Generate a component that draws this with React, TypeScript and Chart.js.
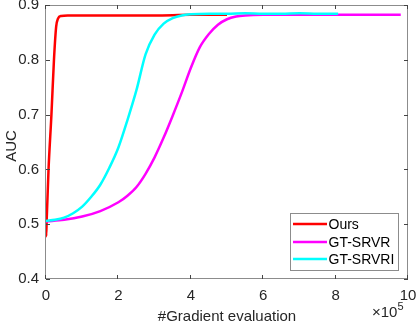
import React, { useEffect, useRef } from "react";
import { Chart, registerables } from "chart.js";

Chart.register(...registerables);

// x values are in units of 1e5 gradient evaluations
const oursX = [0, 0.005, 0.02, 0.07, 0.15, 0.22, 0.28, 0.33, 0.42, 0.6, 1, 2, 3, 4, 5];
const oursY = [0.505, 0.478, 0.51, 0.6, 0.7, 0.8, 0.86, 0.875, 0.88, 0.881, 0.881, 0.881, 0.881, 0.882, 0.882];

const srvrX = [0, 0.5, 1.0, 1.5, 2.0, 2.25, 2.5, 2.75, 3.0, 3.25, 3.5, 3.75, 4.0, 4.25, 4.5, 4.75, 5.0, 5.25, 5.5, 6, 7, 8, 9, 9.8];
const srvrY = [0.505, 0.508, 0.514, 0.524, 0.54, 0.552, 0.568, 0.592, 0.622, 0.658, 0.698, 0.74, 0.785, 0.823, 0.847, 0.864, 0.874, 0.879, 0.881, 0.882, 0.882, 0.882, 0.882, 0.882];

const srvriX = [0, 0.25, 0.5, 0.75, 1.0, 1.25, 1.5, 1.75, 2.0, 2.25, 2.5, 2.75, 3.0, 3.25, 3.5, 3.75, 4.0, 4.5, 5, 5.5, 6, 6.5, 7, 7.5, 8.07];
const srvriY = [0.506, 0.508, 0.512, 0.52, 0.532, 0.55, 0.572, 0.603, 0.64, 0.69, 0.745, 0.81, 0.846, 0.866, 0.876, 0.881, 0.883, 0.884, 0.884, 0.885, 0.884, 0.884, 0.885, 0.884, 0.884];

const seriesNames = ["Ours", "GT-SRVR", "GT-SRVRI"];
const seriesColors = ["#ff0000", "#ff00ff", "#00ffff"];

const xTicks = [0, 2, 4, 6, 8, 10];
const yTicks = [0.4, 0.5, 0.6, 0.7, 0.8, 0.9];

const FONT = "'Liberation Sans', Arial, Helvetica, sans-serif";

const toPts = (xs: number[], ys: number[]) => xs.map((x, i) => ({ x, y: ys[i] }));

const decorPlugin = {
  id: "decor",
  afterDraw(chart: any) {
    const { ctx, chartArea } = chart;
    const { left, right, top, bottom } = chartArea;
    const xs = chart.scales.x;
    const ys = chart.scales.y;
    ctx.save();
    // box
    ctx.strokeStyle = "#8c8c8c";
    ctx.lineWidth = 1;
    ctx.beginPath();
    ctx.moveTo(left - 0.5, top + 0.5);
    ctx.lineTo(right - 0.5, top + 0.5);
    ctx.lineTo(right - 0.5, bottom - 0.5);
    ctx.lineTo(left - 0.5, bottom - 0.5);
    ctx.closePath();
    ctx.stroke();
    // inward ticks
    ctx.strokeStyle = "#444";
    ctx.beginPath();
    const tl = 4;
    xTicks.forEach((t) => {
      const px = Math.round(xs.getPixelForValue(t)) - 0.5;
      ctx.moveTo(px, bottom);
      ctx.lineTo(px, bottom - tl);
      ctx.moveTo(px, top);
      ctx.lineTo(px, top + tl);
    });
    yTicks.forEach((t) => {
      const py = Math.round(ys.getPixelForValue(t)) + 0.5;
      ctx.moveTo(left, py);
      ctx.lineTo(left + tl, py);
      ctx.moveTo(right, py);
      ctx.lineTo(right - tl, py);
    });
    ctx.stroke();

    // axis titles
    ctx.fillStyle = "#262626";
    ctx.font = `15px ${FONT}`;
    ctx.textAlign = "center";
    ctx.textBaseline = "alphabetic";
    ctx.fillText("#Gradient evaluation", (left + right) / 2, 320.5);
    ctx.save();
    ctx.translate(16, (top + bottom) / 2 + 4);
    ctx.rotate(-Math.PI / 2);
    ctx.fillText("AUC", 0, 0);
    ctx.restore();
    // exponent
    ctx.textAlign = "left";
    ctx.font = `15px ${FONT}`;
    ctx.fillText("\u00d710", 372, 317);
    ctx.font = `11px ${FONT}`;
    ctx.fillText("5", 397.5, 310);

    // legend
    const lx = 290.5, ly = 213.5, lw = 108, lh = 57;
    ctx.fillStyle = "#ffffff";
    ctx.fillRect(lx, ly, lw, lh);
    ctx.strokeStyle = "#8c8c8c";
    ctx.lineWidth = 1;
    ctx.strokeRect(lx, ly, lw, lh);
    const rows = [224, 242, 259];
    ctx.font = `14px ${FONT}`;
    ctx.textBaseline = "middle";
    seriesNames.forEach((n, i) => {
      ctx.strokeStyle = seriesColors[i];
      ctx.lineWidth = 2.5;
      ctx.beginPath();
      ctx.moveTo(293, rows[i]);
      ctx.lineTo(327, rows[i]);
      ctx.stroke();
      ctx.fillStyle = "#000";
      ctx.fillText(n, 328.5, rows[i] + 1);
    });
    ctx.restore();
  },
};

export default function App() {
  const ref = useRef<HTMLCanvasElement | null>(null);
  useEffect(() => {
    document.body.style.margin = "0";
    const canvas = ref.current;
    if (!canvas) return;
    const chart = new Chart(canvas, {
      type: "line",
      data: {
        datasets: [
          { label: seriesNames[0], data: toPts(oursX, oursY), borderColor: seriesColors[0], order: 3 },
          { label: seriesNames[1], data: toPts(srvrX, srvrY), borderColor: seriesColors[1], order: 2 },
          { label: seriesNames[2], data: toPts(srvriX, srvriY), borderColor: seriesColors[2], order: 1 },
        ].map((d) => ({
          ...d,
          borderWidth: 2.5,
          pointRadius: 0,
          fill: false,
          tension: 0.3,
          cubicInterpolationMode: "monotone" as const,
        })),
      },
      options: {
        responsive: false,
        animation: false,
        events: [],
        layout: { padding: { left: 0, right: 9, top: 5, bottom: 0 } },
        plugins: { legend: { display: false }, tooltip: { enabled: false } },
        scales: {
          x: {
            type: "linear",
            min: 0,
            max: 10,
            grid: { display: false, drawTicks: false },
            border: { display: false },
            afterBuildTicks: (s: any) => {
              s.ticks = xTicks.map((v) => ({ value: v }));
            },
            ticks: {
              padding: 8,
              color: "#262626",
              font: { family: FONT, size: 15 },
              maxRotation: 0,
              callback: (v: any) => String(v),
            },
            afterFit: (s: any) => {
              s.height = 48;
              s.paddingLeft = 0;
              s.paddingRight = 0;
            },
          },
          y: {
            type: "linear",
            min: 0.4,
            max: 0.9,
            grid: { display: false, drawTicks: false },
            border: { display: false },
            afterBuildTicks: (s: any) => {
              s.ticks = yTicks.map((v) => ({ value: v }));
            },
            ticks: {
              padding: 7,
              color: "#262626",
              font: { family: FONT, size: 15 },
              callback: (v: any) => Number(v).toFixed(1),
            },
            afterFit: (s: any) => {
              s.width = 46;
              s.paddingTop = 0;
              s.paddingBottom = 0;
            },
          },
        },
      },
      plugins: [decorPlugin],
    });
    return () => chart.destroy();
  }, []);
  return (
    <div style={{ width: 417, height: 327 }}>
      <canvas ref={ref} width={417} height={327} style={{ display: "block" }} />
    </div>
  );
}
